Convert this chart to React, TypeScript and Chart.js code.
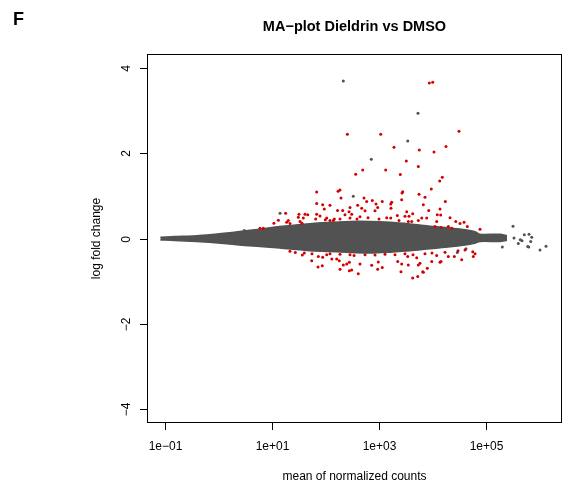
import React, { useEffect, useRef } from 'react';
import { Chart, registerables } from 'chart.js';

Chart.register(...registerables);

// Axis ticks
const xTicks = [0.1, 10, 1000, 100000];
const xTickLabels = ['1e\u221201', '1e+01', '1e+03', '1e+05'];
const yTicks = [-4, -2, 0, 2, 4];
const yTickLabels = ['\u22124', '\u22122', '0', '2', '4'];

const xMin = 0.04704;
const xMax = 2.618e6;
const yMin = -4.32;
const yMax = 4.32;

// Envelope of the dense grey cloud (non-significant genes)
const cloudMean = [0.082, 0.15, 0.39, 0.86, 1.43, 2.5, 6.0, 14, 45, 106, 290, 680, 1620, 3840, 9080, 21500, 41000, 63000, 78000, 185000, 250000];
const cloudUpper = [0.03, 0.045, 0.065, 0.1, 0.127, 0.165, 0.22, 0.28, 0.34, 0.375, 0.4, 0.4, 0.38, 0.34, 0.29, 0.245, 0.205, 0.16, 0.1, 0.1, 0.06];
const cloudLower = [-0.035, -0.045, -0.07, -0.1, -0.124, -0.155, -0.19, -0.225, -0.28, -0.305, -0.33, -0.34, -0.32, -0.29, -0.24, -0.195, -0.15, -0.11, -0.07, -0.07, -0.04];

// Significant genes (red)
const sigMean = [
  8810, 10190, 31620, 258, 1086, 1923, 18070, 5728, 10790, 3266,
  5483, 500, 1346, 370, 2523, 15420, 13770, 9594, 188, 173,
  2799, 2716, 68.9, 5649, 7311, 196, 528, 594, 755, 1161,
  2679, 17540, 68.9, 89.1, 122, 403, 887, 1742, 1671, 6808,
  95.5, 289, 479, 953, 1690, 169, 211, 8590, 13960, 552,
  849, 3327, 277, 18.1, 32.1, 41.6, 46.8, 68.9, 233, 311,
  2218, 3090, 12420, 14390, 3673, 4305, 21480, 31.2, 38.7, 79.4,
  65.9, 106, 147, 188, 289, 1009, 1406, 1671, 2388, 6353,
  7870, 5483, 12100, 27480, 33040, 39270, 45290, 78200, 20.3, 18.9,
  21.8, 10.9, 13.2, 33.6, 36.6, 99.8, 122, 141, 5.98, 6.9,
  3565, 4130, 11250, 14590, 19950, 23120, 445, 628, 391,
  27.4, 37.1, 40.4, 55.6, 72.8, 87.7, 73.8, 89.1, 106, 132,
  163, 182, 188, 217, 251, 281, 281, 289, 344, 445,
  736, 979, 1161, 2259, 2679, 2600, 3475, 3565, 5117, 5483,
  5902, 8072, 9772, 6808, 12100, 14590, 19950, 25880, 35560, 57150,
  63100, 58610, 13960, 6622, 5346, 4305, 413, 311, 953, 552,
  849, 1306, 2009, 3090, 4365, 7311, 9886, 17330, 30340, 41020,
  188, 122, 56.2, 21.8,
];
const sigLfc = [
  3.65, 3.67, 2.52, 2.45, 2.45, 2.14, 2.16, 2.08, 2.03, 1.82,
  1.69, 1.61, 1.61, 1.51, 1.5, 1.44, 1.35, 1.16, 1.14, 1.11,
  1.1, 1.07, 1.09, 1.04, 0.97, 0.95, 0.95, 0.87, 0.89, 0.87,
  0.91, 0.87, 0.82, 0.79, 0.78, 0.78, 0.81, 0.85, 0.81, 0.79,
  0.69, 0.73, 0.71, 0.73, 0.71, 0.66, 0.66, 0.66, 0.69, 0.65,
  0.65, 0.63, 0.63, 0.59, 0.57, 0.57, 0.56, 0.57, 0.56, 0.57,
  0.54, 0.52, 0.56, 0.55, 0.52, 0.58, 0.49, 0.5, 0.48, 0.53,
  0.46, 0.48, 0.46, 0.46, 0.48, 0.46, 0.49, 0.48, 0.42, 0.48,
  0.48, 0.42, 0.4, 0.4, 0.35, 0.38, 0.28, 0.22, 0.42, 0.38,
  0.35, 0.36, 0.43, 0.4, 0.36, 0.44, 0.42, 0.42, 0.24, 0.24,
  0.4, 0.4, 0.28, 0.26, 0.28, 0.24, 0.51, 0.49, 0.46,
  -0.33, -0.39, -0.34, -0.52, -0.67, -0.64, -0.42, -0.44, -0.38, -0.48,
  -0.48, -0.52, -0.72, -0.62, -0.6, -0.56, -0.76, -0.38, -0.4, -0.6,
  -0.63, -0.55, -0.68, -0.54, -0.6, -0.78, -0.42, -0.62, -0.45, -0.62,
  -0.58, -0.7, -0.54, -0.79, -0.4, -0.54, -0.42, -0.42, -0.5, -0.31,
  -0.36, -0.42, -0.56, -0.78, -0.89, -0.93, -0.83, -0.74, -0.72, -0.38,
  -0.39, -0.37, -0.38, -0.36, -0.38, -0.36, -0.34, -0.32, -0.29, -0.27,
  -0.37, -0.36, -0.36, -0.3,
];

// Non-significant genes lying outside the dense cloud (grey)
const otherMean = [217, 5408, 3475, 724, 333, 14.2, 3.05, 324300, 645700, 527200, 726100, 338100, 443600, 477500, 695000, 407400, 204600, 610900, 638300, 1038000, 1343000, 29440, 42760];
const otherLfc = [3.7, 2.94, 2.29, 1.86, 0.99, 0.59, 0.19, 0.29, 0.1, 0.09, 0.03, 0.01, -0.03, -0.05, -0.07, -0.12, -0.2, -0.19, -0.2, -0.27, -0.18, -0.33, -0.24];

const GREY = '#525252';
const RED = '#d40000';
const FONT = '"Liberation Sans", Arial, Helvetica, sans-serif';

const decorPlugin = {
  id: 'decor',
  afterDraw(chart: any) {
    const { ctx, chartArea: a, scales } = chart;
    const xs = scales.x;
    const ys = scales.y;
    ctx.save();
    ctx.strokeStyle = '#000';
    ctx.lineWidth = 1;
    ctx.strokeRect(a.left, a.top, a.right - a.left, a.bottom - a.top);
    ctx.fillStyle = '#000';
    ctx.font = `12px ${FONT}`;
    // x ticks
    xTicks.forEach((v, i) => {
      const px = Math.round(xs.getPixelForValue(v)) + 0.5;
      ctx.beginPath();
      ctx.moveTo(px, a.bottom);
      ctx.lineTo(px, a.bottom + 7.5);
      ctx.stroke();
      ctx.textAlign = 'center';
      ctx.textBaseline = 'alphabetic';
      ctx.fillText(xTickLabels[i], px, 450);
    });
    // y ticks
    yTicks.forEach((v, i) => {
      const py = Math.round(ys.getPixelForValue(v)) + 0.5;
      ctx.beginPath();
      ctx.moveTo(a.left, py);
      ctx.lineTo(a.left - 7.5, py);
      ctx.stroke();
      ctx.save();
      ctx.translate(129.5, py);
      ctx.rotate(-Math.PI / 2);
      ctx.textAlign = 'center';
      ctx.textBaseline = 'alphabetic';
      ctx.fillText(yTickLabels[i], 0, 0);
      ctx.restore();
    });
    const cx = (a.left + a.right) / 2;
    const cy = (a.top + a.bottom) / 2;
    // axis titles
    ctx.textAlign = 'center';
    ctx.fillText('mean of normalized counts', cx, 480);
    ctx.save();
    ctx.translate(100, cy);
    ctx.rotate(-Math.PI / 2);
    ctx.fillText('log fold change', 0, 0);
    ctx.restore();
    // main title
    ctx.font = `bold 14.5px ${FONT}`;
    ctx.fillText('MA\u2212plot Dieldrin vs DMSO', cx, 30.5);
    // panel letter
    ctx.font = `bold 18px ${FONT}`;
    ctx.textAlign = 'left';
    ctx.fillText('F', 13, 25);
    ctx.restore();
  },
};

export default function App() {
  const canvasRef = useRef<HTMLCanvasElement | null>(null);

  useEffect(() => {
    const canvas = canvasRef.current;
    if (!canvas) return;
    const upper = cloudMean.map((m, i) => ({ x: m, y: cloudUpper[i] }));
    const lower = cloudMean.map((m, i) => ({ x: m, y: cloudLower[i] }));
    const sig = sigMean.map((m, i) => ({ x: m, y: sigLfc[i] }));
    const other = otherMean.map((m, i) => ({ x: m, y: otherLfc[i] }));

    const chart = new Chart(canvas, {
      type: 'scatter',
      data: {
        datasets: [
          {
            type: 'line',
            data: upper,
            borderColor: GREY,
            backgroundColor: GREY,
            borderWidth: 1.5,
            pointRadius: 0,
            tension: 0.3,
            fill: '+1',
            order: 3,
          } as any,
          {
            type: 'line',
            data: lower,
            borderColor: GREY,
            backgroundColor: GREY,
            borderWidth: 1.5,
            pointRadius: 0,
            tension: 0.3,
            fill: false,
            order: 2,
          } as any,
          {
            data: other,
            backgroundColor: GREY,
            borderWidth: 0,
            pointRadius: 1.5,
            order: 1,
          },
          {
            data: sig,
            backgroundColor: RED,
            borderWidth: 0,
            pointRadius: 1.5,
            order: 0,
          },
        ],
      },
      options: {
        responsive: false,
        animation: false,
        events: [],
        devicePixelRatio: 1,
        layout: { autoPadding: false, padding: { left: 147.5, right: 0.5, top: 54.5, bottom: 65.5 } },
        plugins: {
          legend: { display: false },
          tooltip: { enabled: false },
          title: { display: false },
        },
        scales: {
          x: { type: 'logarithmic', min: xMin, max: xMax, display: false },
          y: { type: 'linear', min: yMin, max: yMax, display: false },
        },
      },
      plugins: [decorPlugin],
    });
    return () => chart.destroy();
  }, []);

  return (
    <div style={{ position: 'fixed', left: 0, top: 0, width: 562, height: 488, background: '#fff' }}>
      <canvas ref={canvasRef} width={562} height={488} style={{ display: 'block', width: 562, height: 488 }} />
    </div>
  );
}
